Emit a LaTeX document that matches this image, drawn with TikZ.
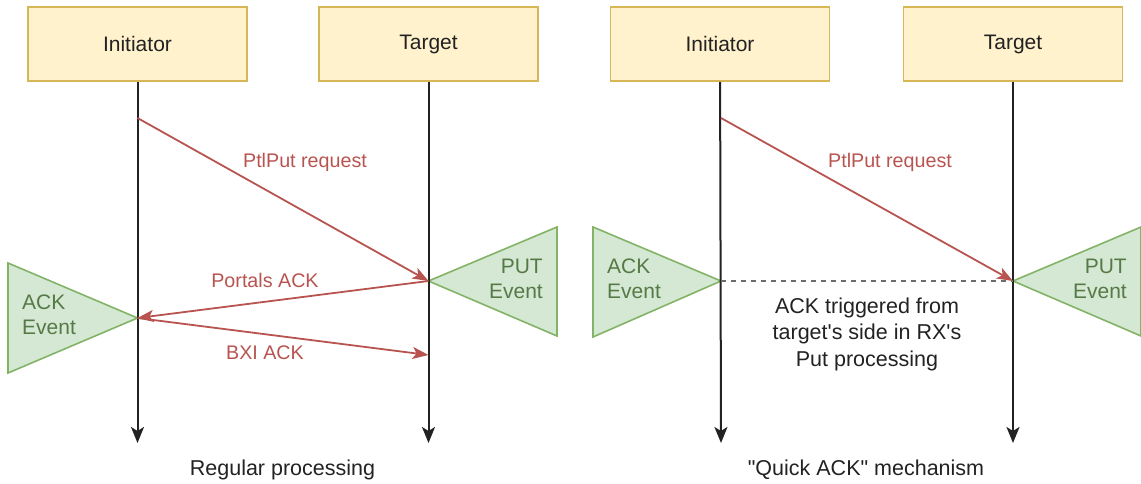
\documentclass[tikz,border=0pt]{standalone}
\usepackage{fontspec}
\setmainfont{Liberation Sans}[Ligatures=TeXOff]
\usetikzlibrary{arrows.meta}
\definecolor{boxfill}{HTML}{FFF2CC}
\definecolor{boxline}{HTML}{D6B656}
\definecolor{evfill}{HTML}{D5E8D4}
\definecolor{evline}{HTML}{82B366}
\definecolor{evtext}{HTML}{567A46}
\definecolor{msg}{HTML}{B85450}
\definecolor{ink}{HTML}{222222}
\tikzset{
  hdr/.style={draw=boxline, fill=boxfill, line width=1.6pt, minimum width=219pt, minimum height=74pt, inner sep=0pt, text=ink, font=\fontsize{21}{25}\selectfont},
  life/.style={draw=ink, line width=2pt, -{Stealth[length=16pt,width=13pt,inset=4pt]}},
  msgarrow/.style={draw=msg, line width=1.8pt, -{Stealth[length=16pt,width=12pt,inset=4pt]}},
  msglabel/.style={text=msg, inner sep=0pt, font=\fontsize{19.7}{24}\selectfont},
  evt/.style={draw=evline, fill=evfill, line width=1.6pt, line join=miter},
  evlabel/.style={text=evtext, inner sep=0pt, font=\fontsize{21}{24.5}\selectfont},
  note/.style={text=ink, inner sep=0pt, align=center, font=\fontsize{21.5}{26.5}\selectfont},
  caption/.style={text=ink, inner sep=0pt, font=\fontsize{21.5}{26}\selectfont},
}
\begin{document}
\begin{tikzpicture}[x=1pt, y=-1pt]
\useasboundingbox (0,0) rectangle (1141,484);

% ---------- left panel: regular processing ----------
\node[hdr] (ini1) at (137.5,44) {Initiator};
\node[hdr] (tgt1) at (428.5,44) {Target};
\coordinate (ini1end) at (137.5,443);
\coordinate (tgt1end) at (428.5,443);

\coordinate (ini1req) at (137.5,118);
\coordinate (tgt1put) at (428.5,281);
\coordinate (ini1ack) at (137.5,318);
\coordinate (tgt1bxi) at (428.5,355);

% event triangles
\coordinate (put1top) at (557,227);
\coordinate (put1bot) at (557,336);
\draw[evt] (tgt1put) -- (put1top) -- (put1bot) -- cycle;
\coordinate (ack1top) at (8,263);
\coordinate (ack1bot) at (8,373);
\draw[evt] (ini1ack) -- (ack1top) -- (ack1bot) -- cycle;

\draw[life] (ini1) -- (ini1end);
\draw[life] (tgt1) -- (tgt1end);

\draw[msgarrow] (ini1req) -- (tgt1put);
\draw[msgarrow] (tgt1put) -- (ini1ack);
\draw[msgarrow] (ini1ack) -- (tgt1bxi);

\node[msglabel] (lreq1) at (305,162) {PtlPut request};
\node[msglabel] (lpack) at (265,280) {Portals ACK};
\node[msglabel] (lbxi) at (265,353) {BXI ACK};

\node[evlabel, anchor=west, align=left] (ackev1) at (22,315) {ACK\\Event};
\node[evlabel, anchor=east, align=right] (putev1) at (543,279) {PUT\\Event};

\node[caption] (cap1) at (282.5,470) {Regular processing};

% ---------- right panel: quick ACK ----------
\node[hdr] (ini2) at (720,44) {Initiator};
\node[hdr] (tgt2) at (1013,44) {Target};
\coordinate (ini2end) at (721,443);
\coordinate (tgt2end) at (1013,443);

\coordinate (ini2req) at (721,118);
\coordinate (tgt2put) at (1013,281);
\coordinate (ini2ack) at (721,281);

\coordinate (put2top) at (1141,227);
\coordinate (put2bot) at (1141,336);
\draw[evt] (tgt2put) -- (put2top) -- (put2bot) -- cycle;
\coordinate (ack2top) at (593,227);
\coordinate (ack2bot) at (593,337);
\draw[evt] (ini2ack) -- (ack2top) -- (ack2bot) -- cycle;

\draw[life] (ini2) -- (ini2end);
\draw[life] (tgt2) -- (tgt2end);

\draw[draw=gray!85!black, line width=1.4pt, dash pattern=on 5pt off 5pt] (ini2ack) -- (tgt2put);
\draw[msgarrow] (ini2req) -- (tgt2put);

\node[msglabel] (lreq2) at (890,162) {PtlPut request};

\node[evlabel, anchor=west, align=left] (ackev2) at (607,279) {ACK\\Event};
\node[evlabel, anchor=east, align=right] (putev2) at (1127,279) {PUT\\Event};

\node[note] (qnote) at (867,334) {ACK triggered from\\target's side in RX's\\Put processing};

\node[caption] (cap2) at (866,470) {"Quick ACK" mechanism};
\end{tikzpicture}
\end{document}
